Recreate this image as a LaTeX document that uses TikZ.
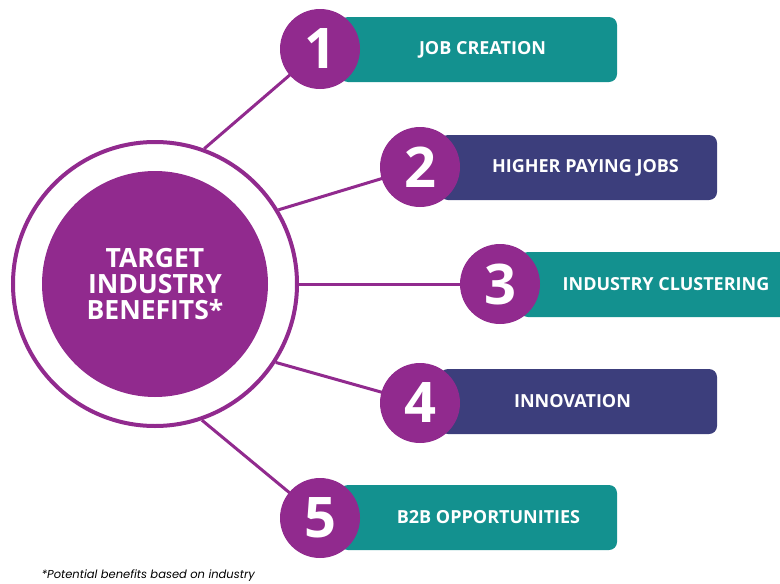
\documentclass[tikz,border=0pt]{standalone}
\usepackage{fontspec}
\setmainfont{Open Sans}
\newfontfamily\notefont{Poppins}
\usetikzlibrary{backgrounds}

\definecolor{plum}{HTML}{912A8E}
\definecolor{teal}{HTML}{13918F}
\definecolor{navy}{HTML}{3C3E7C}

\tikzset{
  numdot/.style={circle, fill=plum, minimum size=80pt, inner sep=0pt,
    text=white, font=\fontsize{56}{56}\selectfont\bfseries},
  bar/.style={rounded corners=8pt, minimum width=277pt, minimum height=65pt,
    inner sep=0pt, text=white, font=\fontsize{18}{18}\selectfont\bfseries},
  spoke/.style={draw=plum, line width=3pt}
}

\begin{document}
\begin{tikzpicture}[x=1pt, y=-1pt]

    \useasboundingbox (0, 0) rectangle (780, 584);

    \node (ring) at (155, 284) [circle, draw=plum, line width=4pt, fill=white, minimum size=284pt] {};
    \node (hub) at (155, 284) [circle, fill=plum, minimum size=226pt, text=white, align=center,
      font=\fontsize{26.5}{26}\selectfont\bfseries] {TARGET\\INDUSTRY\\BENEFITS*};

    \node (b1) at (478.5, 49.5) [bar, fill=teal] {\hspace*{8pt}JOB CREATION};
    \node (b2) at (578.5, 167.5) [bar, fill=navy] {\hspace*{14pt}HIGHER PAYING JOBS};
    \node (b3) at (655, 284.5) [bar, fill=teal, minimum width=270pt] {\hspace*{22pt}INDUSTRY CLUSTERING};
    \node (b4) at (578.5, 401.5) [bar, fill=navy] {\hspace*{-12pt}INNOVATION};
    \node (b5) at (478.5, 517.5) [bar, fill=teal] {\hspace*{20pt}B2B OPPORTUNITIES};

    \node (n1) at (320, 49) [numdot] {1};
    \node (n2) at (420, 167) [numdot] {2};
    \node (n3) at (500, 284) [numdot] {3};
    \node (n4) at (420, 403) [numdot] {4};
    \node (n5) at (320, 518) [numdot] {5};

    \node (note) at (38, 576) [anchor=west, font=\fontsize{11.5}{11.5}\selectfont\notefont\itshape] {*Potential benefits based on industry};

    \begin{scope}[on background layer]
      \draw [spoke] (ring.70) to (n1.center);
      \draw [spoke] (ring.31) to (n2.center);
      \draw [spoke] (ring.0) to (n3.center);
      \draw [spoke] (ring.-33) to (n4.center);
      \draw [spoke] (ring.-71) to (n5.center);
    \end{scope}

  \end{tikzpicture}
\end{document}
